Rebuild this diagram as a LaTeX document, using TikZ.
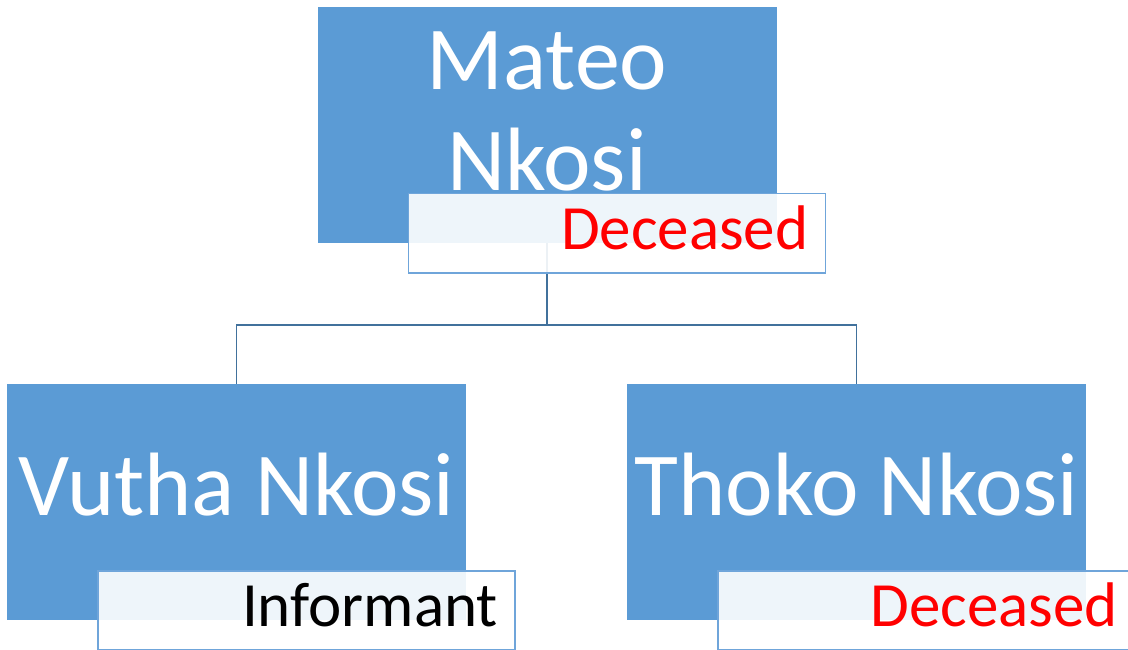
\documentclass[tikz,border=0pt]{standalone}
\usepackage{fontspec}
\setmainfont{Carlito}
\usepackage{tikz}
\usetikzlibrary{positioning}

\definecolor{boxblue}{HTML}{5B9BD5}
\definecolor{linkblue}{HTML}{41719C}
\definecolor{tagline}{HTML}{6FA5DA}

\tikzset{
  person/.style={rectangle, fill=boxblue, draw=boxblue, line width=0.8pt,
    minimum width=458pt, minimum height=235pt, inner sep=0pt,
    text=white, font=\fontsize{90}{102}\selectfont, align=center},
  tag/.style={rectangle, fill=white, fill opacity=0.9, text opacity=1,
    draw=tagline, line width=1.6pt, anchor=north west,
    minimum height=79pt, inner xsep=17pt, inner ysep=0pt, text width=383pt,
    align=right, font=\fontsize{63}{70}\selectfont,
    text height=45pt, text depth=12pt},
  link/.style={draw=linkblue, line width=1.8pt}
}

\begin{document}
\begin{tikzpicture}[x=1pt, y=-1pt]
\useasboundingbox (0,0) rectangle (1128,650);

%Connectors
\coordinate (fork) at (547,325);

%People
\node[person, text height=160pt, text depth=28pt] (mateo) at (547,125) {Mateo\\Nkosi};
\node[person, text height=60pt, text depth=34pt] (vutha) at (236.5,502) {Vutha Nkosi};
\node[person, text height=60pt, text depth=34pt] (thoko) at (856.5,502) {Thoko Nkosi};

\draw[link] (mateo.south) -- (fork);
\draw[link] (fork) -| (vutha.north);
\draw[link] (fork) -| (thoko.north);

%Tags
\node[tag, text=red] (mateotag) at ([xshift=90pt, yshift=50pt]mateo.south west) {Deceased};
\node[tag, text=black] (vuthatag) at ([xshift=90pt, yshift=50pt]vutha.south west) {Informant};
\node[tag, text=red] (thokotag) at ([xshift=90pt, yshift=50pt]thoko.south west) {Deceased};

\end{tikzpicture}
\end{document}
